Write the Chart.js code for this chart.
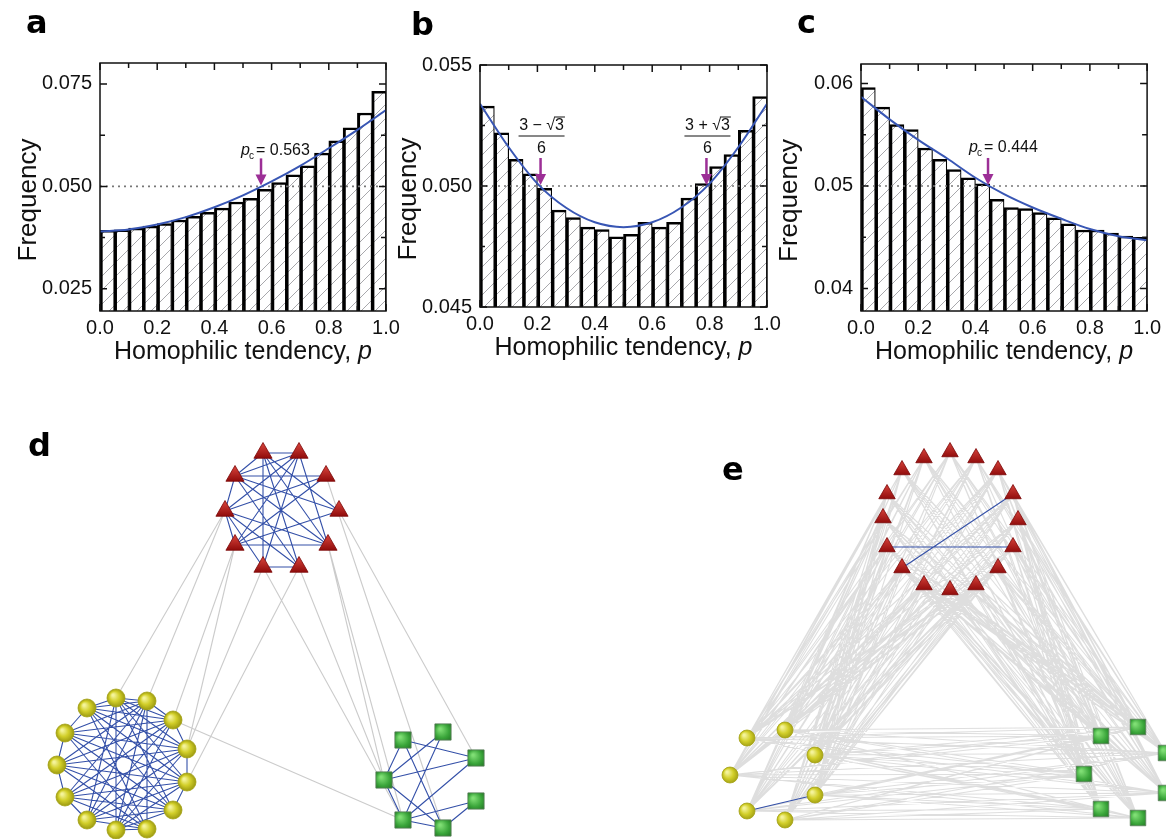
<!DOCTYPE html>
<html>
<head>
<meta charset="utf-8">
<script src="https://cdn.jsdelivr.net/npm/chart.js@4.4.0/dist/chart.umd.min.js"></script>
<style>
  body { margin: 0; background: #fff; width: 1166px; height: 839px; overflow: hidden; position: relative; }
  canvas { position: absolute; }
</style>
</head>
<body>
<canvas id="ca" width="420" height="380" style="left:0;top:0"></canvas>
<canvas id="cb" width="410" height="380" style="left:385px;top:0"></canvas>
<canvas id="cc" width="396" height="380" style="left:770px;top:0"></canvas>
<canvas id="cd" width="580" height="419" style="left:0;top:420px"></canvas>
<canvas id="ce" width="586" height="419" style="left:580px;top:420px"></canvas>
<script>
// histogram bins (centres of the 20 bins of p)
const bins = [0.025, 0.075, 0.125, 0.175, 0.225, 0.275, 0.325, 0.375, 0.425, 0.475,
              0.525, 0.575, 0.625, 0.675, 0.725, 0.775, 0.825, 0.875, 0.925, 0.975];
const freqA = [0.0393, 0.0394, 0.0398, 0.0403, 0.0409, 0.0418, 0.0427, 0.0437, 0.0447, 0.0462,
               0.0471, 0.0493, 0.0509, 0.0528, 0.0550, 0.0581, 0.0611, 0.0643, 0.0679, 0.0732];
const freqB = [0.0533, 0.0522, 0.0511, 0.0505, 0.0499, 0.0490, 0.0487, 0.0483, 0.0482, 0.0479,
               0.0480, 0.0485, 0.0483, 0.0485, 0.0495, 0.0501, 0.0508, 0.0513, 0.0523, 0.0537];
const freqC = [0.0596, 0.0577, 0.0560, 0.0555, 0.0537, 0.0526, 0.0516, 0.0508, 0.0502, 0.0487,
               0.0479, 0.0478, 0.0474, 0.0469, 0.0463, 0.0457, 0.0457, 0.0454, 0.0451, 0.0450];

// fitted curves, read at p = 0, 0.1, ... 1
const curveP = [0, 0.1, 0.2, 0.3, 0.4, 0.5, 0.6, 0.7, 0.8, 0.9, 1.0];
const curveA = [0.0390, 0.0395, 0.0407, 0.0425, 0.0449, 0.0478, 0.0512, 0.0550, 0.0593, 0.0638, 0.0686];
const curveB = [0.0534, 0.0516, 0.0501, 0.0491, 0.0485, 0.0483, 0.0485, 0.0491, 0.0501, 0.0516, 0.0534];
const curveC = [0.0587, 0.0565, 0.0545, 0.0527, 0.0508, 0.0492, 0.0479, 0.0468, 0.0458, 0.0451, 0.0447];
const refLevel = 0.05;

const xTicks = [0, 0.2, 0.4, 0.6, 0.8, 1.0];
const xMinor = [0.1, 0.3, 0.5, 0.7, 0.9];
const yTicksA = [0.025, 0.050, 0.075], yMinorA = [0.0375, 0.0625];
const yTicksB = [0.045, 0.050, 0.055], yMinorB = [0.0475, 0.0525];
const yTicksC = [0.04, 0.05, 0.06],    yMinorC = [0.045, 0.055];

// network d
const dTri = [[263,453],[299,453],[235,476],[326,476],[225,511],[339,511],[235,545],[328,545],[263,567],[299,567]];
const dCir = [[116,698],[147,701],[87,708],[173,720],[65,733],[187,749],[57,765],[187,782],[65,797],[173,810],[87,820],[116,830],[147,829]];
const dSq  = [[403,740],[443,732],[476,758],[384,780],[476,801],[403,820],[443,828]];
const dTriEdges = [[0,1],[0,2],[0,8],[0,5],[0,9],[0,7],[1,2],[1,6],[1,8],[1,7],[1,4],[2,3],[2,5],
                   [2,7],[2,9],[3,6],[4,7],[4,9],[4,8],[4,6],[5,6],[6,7],[8,9],[3,4],[2,4]];
const dCirEdges = [[0,3],[0,7],[0,9],[0,11],[0,10],[0,5],[1,2],[1,4],[1,6],[1,8],[1,11],[1,10],[1,12],
                   [2,3],[2,5],[2,7],[2,9],[2,12],[3,4],[3,6],[3,8],[3,10],[3,11],[4,5],[4,7],[4,9],
                   [4,12],[5,6],[5,8],[5,10],[5,11],[6,7],[6,9],[6,12],[7,8],[7,10],[7,11],[8,9],
                   [8,12],[9,10],[9,11],[10,12],[11,12],[0,1],[2,4],[4,6],[6,8],[8,10],[3,5],[5,7],
                   [7,9],[1,3],[0,2]];
const dSqEdges = [[0,3],[0,2],[0,6],[1,3],[1,5],[2,3],[3,6],[3,5],[4,5],[5,6],[4,6],[2,5]];
const dTriCir = [[4,0],[4,1],[6,3],[6,5],[8,5],[9,7]];
const dTriSq  = [[7,3],[7,5],[5,2],[9,3],[8,5],[3,6]];
const dCirSq  = [[3,5]];

// network e
const eTri = [[950,452],[976,458],[998,470],[1013,494],[1018,520],[1013,547],[998,568],[976,585],
              [950,590],[924,585],[902,568],[887,547],[883,518],[887,494],[902,470],[924,458]];
const eCir = [[747,738],[785,730],[815,755],[730,775],[815,795],[747,811],[785,820]];
const eSq  = [[1101,736],[1138,727],[1166,753],[1084,774],[1166,793],[1101,809],[1138,818]];
const eTriEdges = [[11,5],[3,10]];
const eCirEdges = [[5,4]];

const FONT = "'Liberation Sans', Arial, sans-serif";
Chart.defaults.font.family = FONT;
Chart.defaults.color = '#111';

function hatch() {
  const c = document.createElement('canvas');
  c.width = 14; c.height = 14;
  const g = c.getContext('2d');
  g.fillStyle = '#fff'; g.fillRect(0, 0, 14, 14);
  g.strokeStyle = '#a8a8ac'; g.lineWidth = 1;
  g.beginPath();
  g.moveTo(-7, 7); g.lineTo(7, -7);
  g.moveTo(0, 14); g.lineTo(14, 0);
  g.moveTo(7, 21); g.lineTo(21, 7);
  g.stroke();
  return g.createPattern(c, 'repeat');
}

const panelPlugin = {
  id: 'panel',
  afterDraw(chart, args, o) {
    const {ctx, chartArea: a} = chart;
    ctx.save();
    ctx.fillStyle = '#000';
    ctx.font = "bold 32px 'DejaVu Sans', sans-serif";
    ctx.textBaseline = 'alphabetic';
    ctx.fillText(o.letter, o.lx, o.ly);
    if (!o.hist) { ctx.restore(); return; }
    const {x, y} = chart.scales;
    ctx.strokeStyle = '#111';
    ctx.lineWidth = 1.5;
    ctx.strokeRect(a.left, a.top, a.right - a.left, a.bottom - a.top);
    const vt = (vals, len) => vals.forEach(v => {
      const px = x.getPixelForValue(v);
      ctx.beginPath();
      ctx.moveTo(px, a.top); ctx.lineTo(px, a.top + len);
      ctx.moveTo(px, a.bottom); ctx.lineTo(px, a.bottom - len);
      ctx.stroke();
    });
    const ht = (vals, len) => vals.forEach(v => {
      const py = y.getPixelForValue(v);
      ctx.beginPath();
      ctx.moveTo(a.left, py); ctx.lineTo(a.left + len, py);
      ctx.moveTo(a.right, py); ctx.lineTo(a.right - len, py);
      ctx.stroke();
    });
    vt(xTicks, 7); vt(xMinor, 5);
    ht(o.yMajor, 7); ht(o.yMinor, 5);

    // axis titles
    ctx.fillStyle = '#111';
    ctx.textBaseline = 'middle';
    ctx.font = '25px ' + FONT;
    const t1 = 'Homophilic tendency, ';
    const w1 = ctx.measureText(t1).width;
    ctx.font = 'italic 25px ' + FONT;
    const w2 = ctx.measureText('p').width;
    let sx = (a.left + a.right) / 2 - (w1 + w2) / 2;
    ctx.font = '25px ' + FONT;
    ctx.fillText(t1, sx, a.bottom + 41);
    ctx.font = 'italic 25px ' + FONT;
    ctx.fillText('p', sx + w1, a.bottom + 41);

    ctx.save();
    ctx.translate(a.left - 71, (a.top + a.bottom) / 2 + 13);
    ctx.rotate(-Math.PI / 2);
    ctx.font = '26px ' + FONT;
    ctx.textAlign = 'center';
    ctx.fillText('Frequency', 0, 0);
    ctx.restore();

    // annotations
    const purple = '#9c2f96';
    (o.marks || []).forEach(m => {
      const tx = x.getPixelForValue(m.x);
      const ty = y.getPixelForValue(refLevel) - 1;
      ctx.strokeStyle = purple; ctx.fillStyle = purple; ctx.lineWidth = 2.5;
      ctx.beginPath(); ctx.moveTo(tx, ty - 27); ctx.lineTo(tx, ty - 9); ctx.stroke();
      ctx.beginPath(); ctx.moveTo(tx - 5.5, ty - 11); ctx.lineTo(tx + 5.5, ty - 11); ctx.lineTo(tx, ty); ctx.closePath(); ctx.fill();
      ctx.fillStyle = '#111';
      ctx.textBaseline = 'alphabetic';
      if (m.kind === 'pc') {
        const lx = tx + m.dx, ly = ty + m.dy;
        ctx.textAlign = 'left';
        ctx.font = 'italic 16px ' + FONT;
        ctx.fillText('p', lx, ly);
        ctx.font = '10px ' + FONT;
        ctx.fillText('c', lx + 8, ly + 4);
        ctx.font = '16px ' + FONT;
        ctx.fillText('= ' + m.label, lx + 15, ly);
      } else {
        const cx = tx + 1;
        ctx.font = '16px ' + FONT;
        ctx.textAlign = 'left';
        const a1 = '3 ' + m.sign + ' \u221A';
        const wa = ctx.measureText(a1).width, wb = ctx.measureText('3').width;
        const x0 = cx - (wa + wb) / 2;
        ctx.fillText(a1, x0, ty - 55);
        ctx.fillText('3', x0 + wa, ty - 55);
        ctx.lineWidth = 1; ctx.strokeStyle = '#111';
        ctx.beginPath(); ctx.moveTo(x0 + wa - 1, ty - 68); ctx.lineTo(x0 + wa + wb + 1, ty - 68); ctx.stroke();
        ctx.beginPath(); ctx.moveTo(cx - 23, ty - 49); ctx.lineTo(cx + 23, ty - 49); ctx.stroke();
        ctx.textAlign = 'center';
        ctx.fillText('6', cx, ty - 32);
      }
    });
    ctx.restore();
  }
};

function histChart(id, o) {
  const pattern = hatch();
  return new Chart(document.getElementById(id), {
    type: 'bar',
    data: {
      datasets: [
        {
          type: 'line',
          data: curveP.map((p, i) => ({x: p, y: o.curve[i]})),
          borderColor: '#3856b4', borderWidth: 2,
          pointRadius: 0, cubicInterpolationMode: 'monotone', order: 1
        },
        {
          type: 'line',
          data: [{x: 0, y: refLevel}, {x: 1, y: refLevel}],
          borderColor: '#777', borderWidth: 1.6, borderDash: [2, 4],
          pointRadius: 0, order: 2
        },
        {
          data: bins.map((b, i) => ({x: b, y: o.freq[i]})),
          backgroundColor: pattern,
          borderColor: '#000',
          borderWidth: {left: 3, top: 2.5, right: 1.2, bottom: 0},
          borderSkipped: 'bottom',
          barPercentage: 1, categoryPercentage: 1,
          order: 3
        }
      ]
    },
    options: {
      responsive: false, animation: false, devicePixelRatio: 1,
      events: [],
      layout: {autoPadding: false, padding: {left: 0, top: o.top, right: o.right, bottom: 0}},
      plugins: {
        legend: {display: false}, tooltip: {enabled: false},
        panel: {hist: true, letter: o.letter, lx: o.lx, ly: o.ly, yMajor: o.yTicks, yMinor: o.yMinor, marks: o.marks}
      },
      scales: {
        x: {
          type: 'linear', min: 0, max: 1, offset: false,
          grid: {display: false, drawTicks: false}, border: {display: false},
          afterBuildTicks: s => { s.ticks = xTicks.map(v => ({value: v})); },
          afterFit: s => { s.height = o.xh; },
          ticks: {autoSkip: false, maxRotation: 0, padding: 5, font: {size: 20}, callback: v => v.toFixed(1)}
        },
        y: {
          min: o.ymin, max: o.ymax,
          grid: {display: false, drawTicks: false}, border: {display: false},
          afterBuildTicks: s => { s.ticks = o.yTicks.map(v => ({value: v})); },
          afterFit: s => { s.width = o.yw; },
          ticks: {padding: 8, font: {size: 20}, callback: v => v.toFixed(o.dec)}
        }
      }
    },
    plugins: [panelPlugin]
  });
}

histChart('ca', {
  freq: freqA, curve: curveA, ymin: 0.0196, ymax: 0.0801, yTicks: yTicksA, yMinor: yMinorA, dec: 3,
  top: 63, right: 34, yw: 100, xh: 69, letter: 'a', lx: 26, ly: 33,
  marks: [{x: 0.563, kind: 'pc', label: '0.563', dx: -20, dy: -30}]
});
histChart('cb', {
  freq: freqB, curve: curveB, ymin: 0.045, ymax: 0.055, yTicks: yTicksB, yMinor: yMinorB, dec: 3,
  top: 65, right: 28, yw: 95, xh: 73, letter: 'b', lx: 26, ly: 35,
  marks: [{x: 0.211, kind: 'frac', sign: '\u2212'}, {x: 0.789, kind: 'frac', sign: '+'}]
});
histChart('cc', {
  freq: freqC, curve: curveC, ymin: 0.0378, ymax: 0.0619, yTicks: yTicksC, yMinor: yMinorC, dec: 2,
  top: 64, right: 18, yw: 91, xh: 69, letter: 'c', lx: 27, ly: 33,
  marks: [{x: 0.444, kind: 'pc', label: '0.444', dx: -19, dy: -33}]
});

// ---------- networks ----------
const pt = p => ({x: p[0], y: p[1]});
function edgeData(pairs) {
  const out = [];
  pairs.forEach(([p, q]) => out.push(pt(p), pt(q), {x: null, y: null}));
  return out;
}
function link(A, B, idx) { return idx.map(([i, j]) => [A[i], B[j]]); }

function px(ctx) {
  const s = ctx.chart.scales;
  if (!ctx.parsed || !s.x || !s.y) return null;
  const x = s.x.getPixelForValue(ctx.parsed.x), y = s.y.getPixelForValue(ctx.parsed.y);
  return (isFinite(x) && isFinite(y)) ? [x, y] : null;
}
const triFill = ctx => {
  const p = px(ctx);
  if (!p) return '#b01414';
  const g = ctx.chart.ctx.createLinearGradient(p[0], p[1] - 10, p[0], p[1] + 6);
  g.addColorStop(0, '#d8443c'); g.addColorStop(1, '#8c0808');
  return g;
};
const cirFill = ctx => {
  const p = px(ctx);
  if (!p) return '#cfcb22';
  const g = ctx.chart.ctx.createRadialGradient(p[0] - 3, p[1] - 3, 1, p[0], p[1], 9);
  g.addColorStop(0, '#f4f39a'); g.addColorStop(0.5, '#d2cf2a'); g.addColorStop(1, '#9c9a10');
  return g;
};
const sqFill = ctx => {
  const p = px(ctx);
  if (!p) return '#3fa83f';
  const g = ctx.chart.ctx.createRadialGradient(p[0] - 3, p[1] - 3, 1, p[0], p[1], 11);
  g.addColorStop(0, '#7fde74'); g.addColorStop(0.6, '#3aa53a'); g.addColorStop(1, '#247a26');
  return g;
};

function netChart(id, o) {
  const nodes = (arr, style, r, fill, border) => ({
    data: arr.map(pt), pointStyle: style, pointRadius: r, pointBackgroundColor: fill,
    pointBorderColor: border, pointBorderWidth: 0.8, showLine: false, order: 0
  });
  const edges = (pairs, color, w, order) => ({
    data: edgeData(pairs), showLine: true, spanGaps: false, pointRadius: 0,
    borderColor: color, borderWidth: w, order
  });
  return new Chart(document.getElementById(id), {
    type: 'scatter',
    data: {
      datasets: [
        nodes(o.tri, 'triangle', o.rt, triFill, '#7a0606'),
        nodes(o.cir, 'circle', o.rc, cirFill, '#a5a214'),
        nodes(o.sq, 'rect', o.rs, sqFill, '#5d7d5d'),
        edges(o.blue, '#3450a8', 1.1, 5),
        edges(o.gray, o.grayColor, 1.1, 6)
      ]
    },
    options: {
      responsive: false, animation: false, devicePixelRatio: 1, events: [],
      layout: {autoPadding: false, padding: 0},
      plugins: {legend: {display: false}, tooltip: {enabled: false},
                panel: {hist: false, letter: o.letter, lx: o.lx, ly: o.ly}},
      scales: {
        x: {type: 'linear', min: o.x0, max: o.x1, display: false},
        y: {type: 'linear', min: 420, max: 839, reverse: true, display: false}
      }
    },
    plugins: [panelPlugin]
  });
}

netChart('cd', {
  tri: dTri, cir: dCir, sq: dSq, rt: 10.5, rc: 9, rs: 11.5, x0: 0, x1: 580,
  letter: 'd', lx: 28, ly: 36,
  blue: [...link(dTri, dTri, dTriEdges), ...link(dCir, dCir, dCirEdges), ...link(dSq, dSq, dSqEdges)],
  gray: [...link(dTri, dCir, dTriCir), ...link(dTri, dSq, dTriSq), ...link(dCir, dSq, dCirSq)],
  grayColor: 'rgba(190,190,190,0.8)'
});

// panel e: every node is tied to every node of the other two groups
const eGray = [];
eTri.forEach(t => { eCir.forEach(c => eGray.push([t, c])); eSq.forEach(s => eGray.push([t, s])); });
eCir.forEach(c => eSq.forEach(s => eGray.push([c, s])));

netChart('ce', {
  tri: eTri, cir: eCir, sq: eSq, rt: 9.5, rc: 8, rs: 11, x0: 580, x1: 1166,
  letter: 'e', lx: 142, ly: 60,
  blue: [...link(eTri, eTri, eTriEdges), ...link(eCir, eCir, eCirEdges)],
  gray: eGray,
  grayColor: 'rgba(195,195,195,0.55)'
});
</script>
</body>
</html>
